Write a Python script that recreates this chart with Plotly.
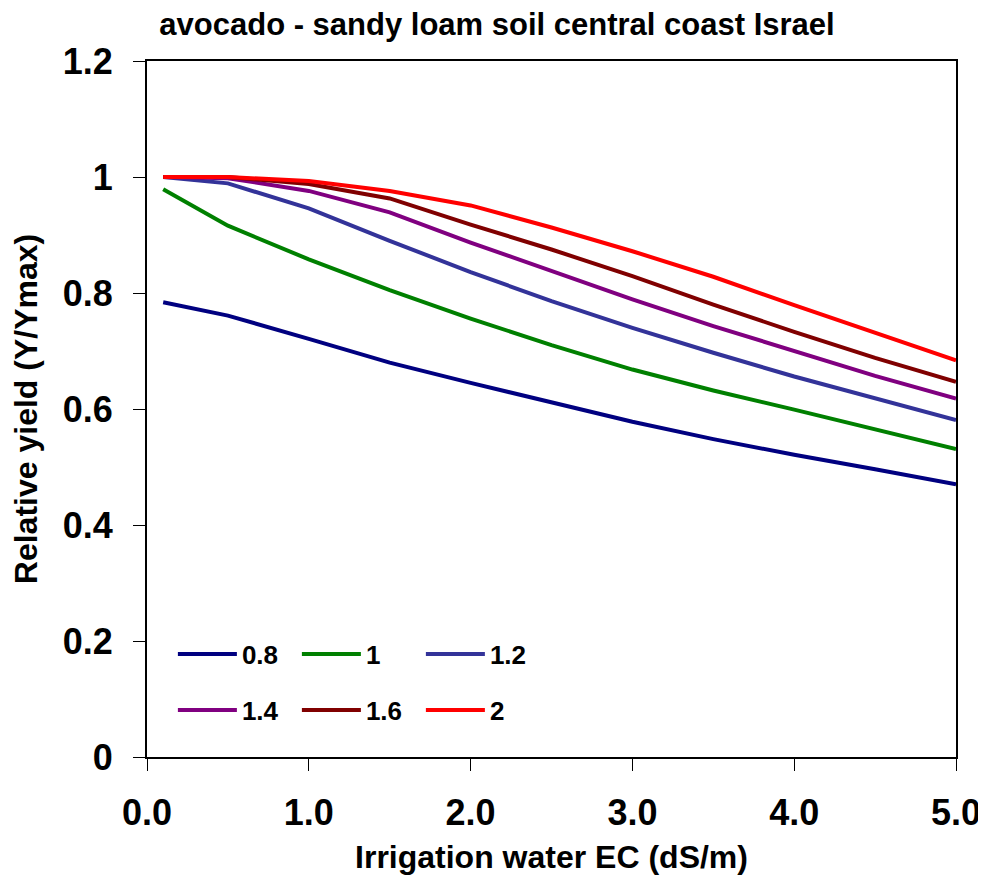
import plotly.graph_objects as go

ec = [0.1, 0.5, 1.0, 1.5, 2.0, 2.5, 3.0, 3.5, 4.0, 4.5, 5.0]
y_08 = [0.784, 0.761, 0.721, 0.680, 0.645, 0.612, 0.578, 0.548, 0.521, 0.496, 0.470]
y_10 = [0.979, 0.916, 0.858, 0.805, 0.756, 0.710, 0.668, 0.632, 0.599, 0.565, 0.531]
y_12 = [1.000, 0.989, 0.946, 0.890, 0.836, 0.786, 0.740, 0.697, 0.656, 0.619, 0.581]
y_14 = [1.000, 0.998, 0.976, 0.939, 0.887, 0.838, 0.789, 0.743, 0.700, 0.657, 0.618]
y_16 = [1.000, 1.000, 0.988, 0.963, 0.918, 0.875, 0.829, 0.780, 0.733, 0.688, 0.647]
y_20 = [1.000, 1.000, 0.993, 0.976, 0.951, 0.913, 0.872, 0.828, 0.779, 0.732, 0.684]

series_names = ["0.8", "1", "1.2", "1.4", "1.6", "2"]
series_values = [y_08, y_10, y_12, y_14, y_16, y_20]
colors = ["#000080", "#008000", "#333399", "#800080", "#800000", "#FF0000"]
legend_ids = ["legend", "legend", "legend", "legend2", "legend2", "legend2"]

x_tickvals = [0, 1, 2, 3, 4, 5]
x_ticktext = ["0.0", "1.0", "2.0", "3.0", "4.0", "5.0"]
y_tickvals = [0, 0.2, 0.4, 0.6, 0.8, 1.0, 1.2]
y_ticktext = ["0", "0.2", "0.4", "0.6", "0.8", "1", "1.2"]

FONT = "Liberation Sans, Arial, sans-serif"

fig = go.Figure()
for name, vals, col, lg in zip(series_names, series_values, colors, legend_ids):
    fig.add_trace(go.Scatter(x=ec, y=vals, mode="lines", name=name,
                             line=dict(color=col, width=4), legend=lg))

legend_common = dict(orientation="h", xanchor="left", yanchor="middle",
                     bgcolor="rgba(0,0,0,0)", itemwidth=59,
                     entrywidth=50, entrywidthmode="pixels",
                     font=dict(family=FONT, size=26, color="black", weight="bold"))

# page body adds an 8px offset; figure is sized to fit the window
fig.update_layout(
    width=978, height=867,
    margin=dict(l=139, r=30, t=53, b=118),
    paper_bgcolor="white", plot_bgcolor="white",
    title=dict(text="<b>avocado - sandy loam soil central coast Israel</b>",
               x=0.5, xanchor="center", y=0.9815, yanchor="middle",
               font=dict(family=FONT, size=31, color="black")),
    xaxis=dict(range=[0, 5], tickvals=x_tickvals, ticktext=x_ticktext,
               ticks="outside", ticklen=12, tickcolor="black", tickwidth=1,
               showline=True, linecolor="black", linewidth=2, mirror=True,
               showgrid=False, zeroline=False, ticklabelstandoff=11,
               automargin=False,
               tickfont=dict(family=FONT, size=36, color="black", weight="bold"),
               title=dict(text="<b>Irrigation water EC (dS/m)</b>", standoff=14,
                          font=dict(family=FONT, size=32, color="black"))),
    yaxis=dict(range=[0, 1.2], tickvals=y_tickvals, ticktext=y_ticktext,
               ticks="outside", ticklen=12, tickcolor="black", tickwidth=1,
               showline=True, linecolor="black", linewidth=2, mirror=True,
               showgrid=False, zeroline=False, ticklabelstandoff=13,
               automargin=False,
               tickfont=dict(family=FONT, size=36, color="black", weight="bold"),
               title=dict(text="<b>Relative yield (Y/Ymax)</b>", standoff=22,
                          font=dict(family=FONT, size=32, color="black"))),
    legend=dict(x=0.032, y=0.148, **legend_common),
    legend2=dict(x=0.032, y=0.0675, **legend_common),
)

fig.write_html("out.html")
